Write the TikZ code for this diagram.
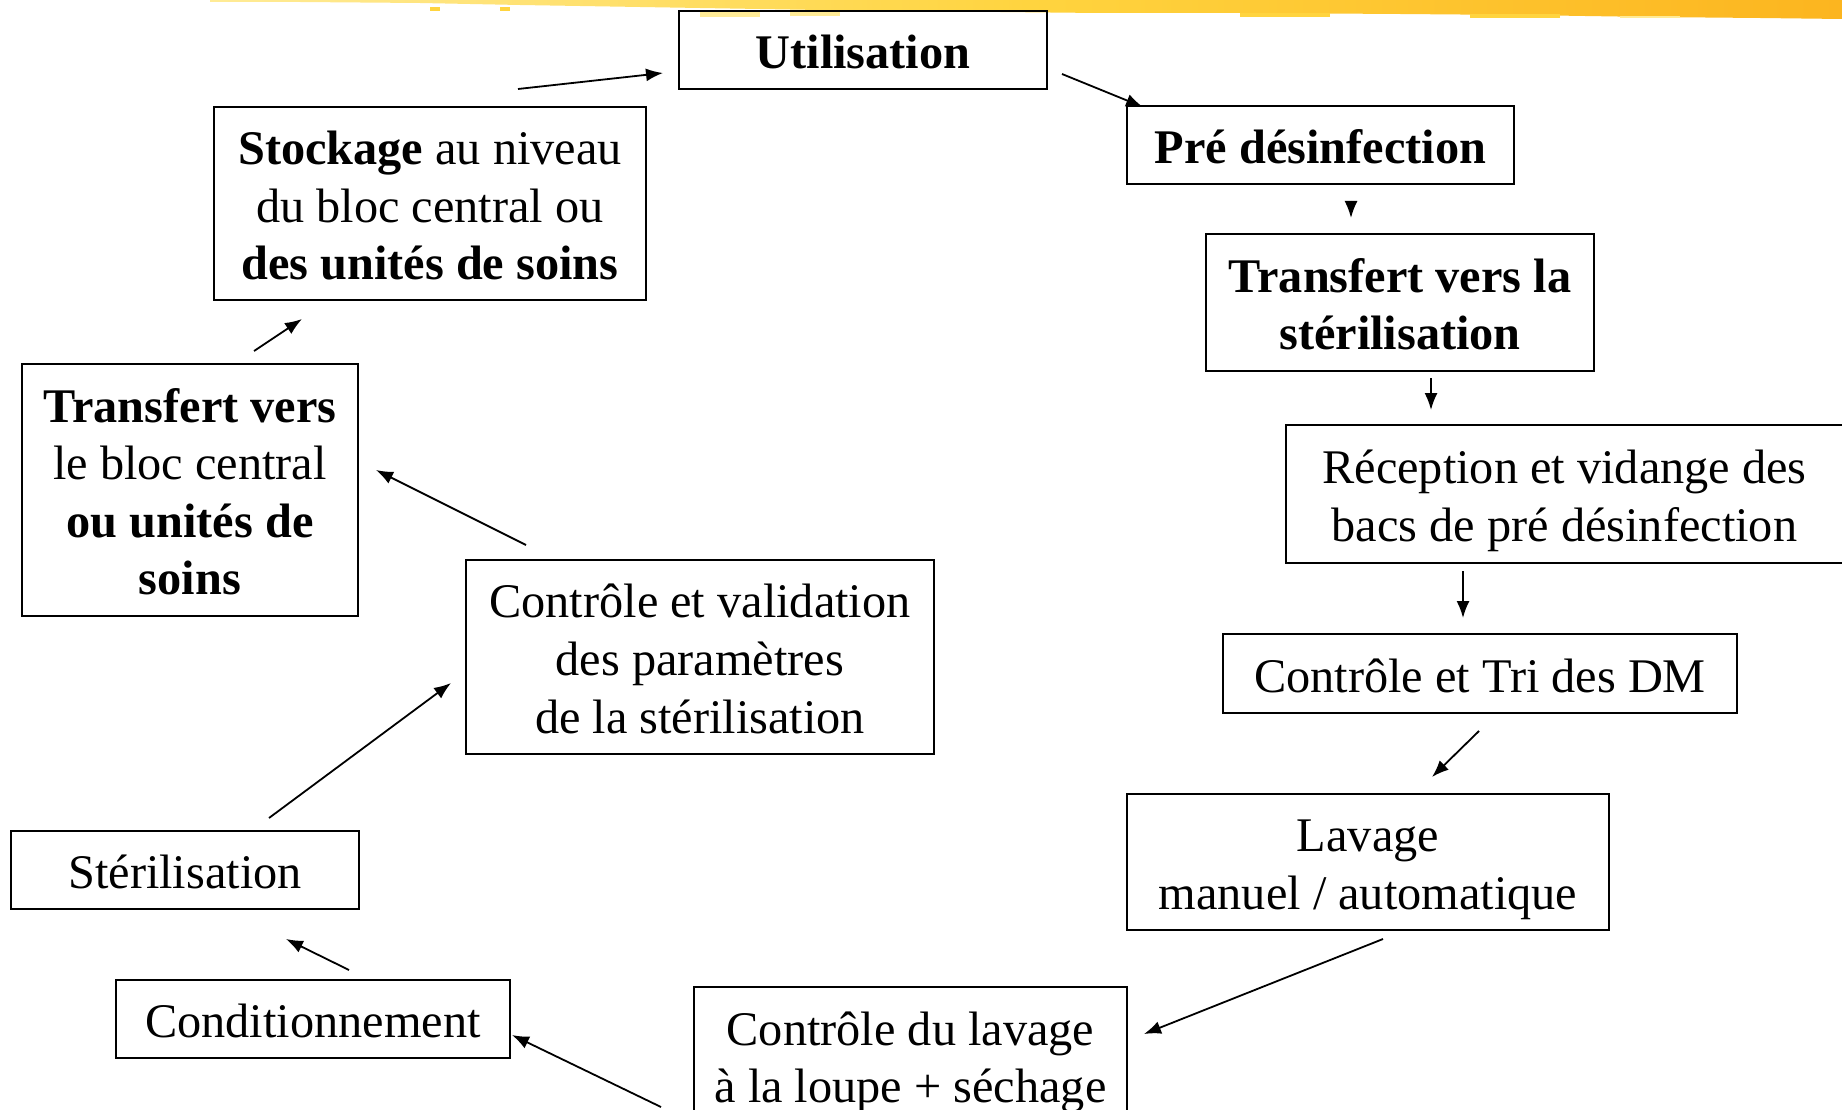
\documentclass[tikz,border=0pt]{standalone}
\usepackage{fontspec}
\setmainfont{Liberation Serif}
\usetikzlibrary{arrows.meta}
\definecolor{bandL}{HTML}{FFEB96}
\definecolor{bandM}{HTML}{FFD43F}
\definecolor{bandR}{HTML}{FCB51F}
\newcommand\ls{\rule[-11pt]{0pt}{59pt}}
\newcommand\boxfont{\fontsize{48.3}{57.6}\selectfont\setlength{\lineskiplimit}{-100pt}\setlength{\lineskip}{0pt}}
\begin{document}
\begin{tikzpicture}[x=1pt,y=-1pt,
  box/.style={draw, line width=2pt, inner sep=0pt, align=center,
    font=\boxfont},
  arr/.style={line width=1.8pt, -{Latex[length=17pt,width=13pt]}}]
\useasboundingbox (0,0) rectangle (1842,1110);
\fill[white] (0,0) rectangle (1842,1110);
% brushed band at the top
\shade[left color=bandL, right color=bandR, middle color=bandM]
  (210,0) -- (1842,0) -- (1842,19) -- (1760,18) -- (1650,17) -- (1520,15)
  -- (1400,14) -- (1250,13) -- (1100,13) -- (1000,12) -- (880,11) -- (760,9)
  -- (640,7) -- (520,5) -- (420,3) -- (300,2) -- (210,2) -- cycle;
\fill[bandL] (700,12) rectangle (760,17);
\fill[bandL] (790,11) rectangle (840,16);
\fill[bandM] (1240,13) rectangle (1330,17);
\fill[bandM] (1470,14) rectangle (1560,18);
\fill[bandL] (1620,16) rectangle (1680,18);
\fill[bandM] (430,7) rectangle (440,11);
\fill[bandM] (500,7) rectangle (510,11);

% boxes
\node[box, minimum width=368pt, minimum height=78pt] (util) at (863,50)
  {\ls\textbf{Utilisation}};
\node[box, minimum width=387pt, minimum height=78pt] (pre) at (1320.5,145)
  {\ls\textbf{Pré désinfection}};
\node[box, minimum width=388pt, minimum height=137pt] (tster) at (1400,302.5)
  {\ls\textbf{Transfert vers la}\\\ls\textbf{stérilisation}};
\node[box, minimum width=557pt, minimum height=138pt] (recep) at (1564.5,494)
  {\ls Réception et vidange des\\\ls bacs de pré désinfection};
\node[box, minimum width=514pt, minimum height=79pt] (tri) at (1480,673.5)
  {\ls Contrôle et Tri des DM};
\node[box, minimum width=482pt, minimum height=136pt] (lav) at (1368,862)
  {\ls Lavage\\\ls manuel / automatique};
\node[box, minimum width=433pt, minimum height=137pt] (clav) at (910.5,1055.5)
  {\ls Contrôle du lavage\\\ls à la loupe + séchage};
\node[box, minimum width=394pt, minimum height=78pt] (cond) at (313,1019)
  {\ls Conditionnement};
\node[box, minimum width=348pt, minimum height=78pt] (ster) at (185,870)
  {\ls Stérilisation};
\node[box, minimum width=468pt, minimum height=194pt] (valid) at (700,657)
  {\ls Contrôle et validation\\\ls des paramètres\\\ls de la stérilisation};
\node[box, minimum width=336pt, minimum height=252pt] (tbloc) at (190,490)
  {\ls\textbf{Transfert vers}\\\ls le bloc central\\\ls\textbf{ou unités de}\\\ls\textbf{soins}};
\node[box, minimum width=432pt, minimum height=193pt] (stock) at (430,203.5)
  {\ls\textbf{Stockage} au niveau\\\ls du bloc central ou\\\ls\textbf{des unités de soins}};

% arrow end points
\coordinate (s1) at (518,89);   \coordinate (e1) at (663,73);
\coordinate (s2) at (1062,74);  \coordinate (e2) at (1143,107);
\coordinate (s3) at (1351,201); \coordinate (e3) at (1351,218);
\coordinate (s4) at (1431,378); \coordinate (e4) at (1431,410);
\coordinate (s5) at (1463,571); \coordinate (e5) at (1463,618);
\coordinate (s6) at (1479,731); \coordinate (e6) at (1432,777);
\coordinate (s7) at (1383,939); \coordinate (e7) at (1144,1034);
\coordinate (s8) at (661,1107); \coordinate (e8) at (512,1035);
\coordinate (s9) at (349,970);  \coordinate (e9) at (286,939);
\coordinate (s10) at (269,818); \coordinate (e10) at (451,683);
\coordinate (s11) at (526,545); \coordinate (e11) at (376,470);
\coordinate (s12) at (254,351); \coordinate (e12) at (302,319);

\foreach \i in {1,...,12} { \draw[arr] (s\i) -- (e\i); }
\end{tikzpicture}
\end{document}
